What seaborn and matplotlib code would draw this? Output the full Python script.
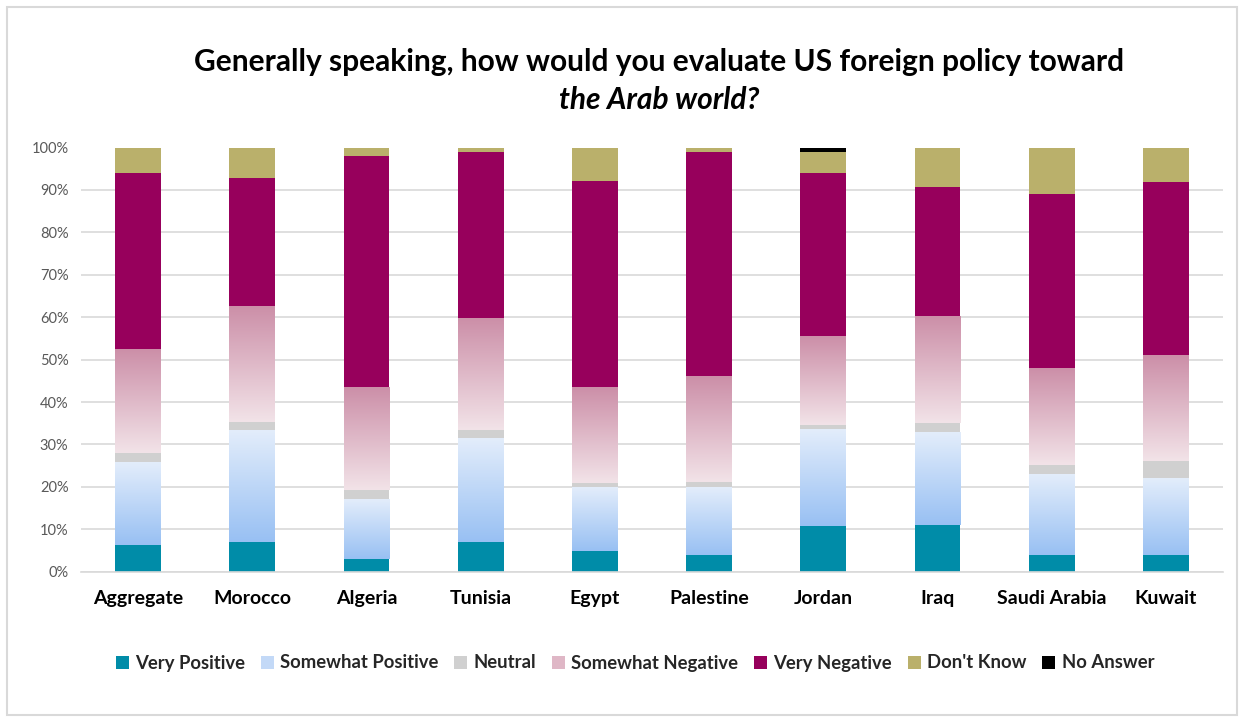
import numpy as np
import pandas as pd
import matplotlib
matplotlib.use("Agg")
import matplotlib.pyplot as plt
import seaborn as sns
from matplotlib.patches import Patch, Rectangle
from matplotlib.colors import to_rgb

# ---------------- data ----------------
countries = ["Aggregate", "Morocco", "Algeria", "Tunisia", "Egypt",
             "Palestine", "Jordan", "Iraq", "Saudi Arabia", "Kuwait"]
very_positive     = [6.4, 7.0, 3.0, 7.0, 4.9, 4.0, 10.8, 11.1, 4.0, 4.0]
somewhat_positive = [19.5, 26.4, 14.1, 24.3, 14.9, 16.0, 22.7, 21.8, 19.0, 18.0]
neutral           = [2.0, 1.9, 2.1, 2.1, 1.0, 1.1, 1.2, 2.1, 2.1, 4.1]
somewhat_negative = [24.3, 27.2, 24.2, 26.2, 22.6, 24.8, 20.9, 25.0, 22.8, 24.8]
very_negative     = [41.7, 30.4, 54.5, 39.3, 48.6, 53.0, 38.3, 30.8, 41.1, 40.9]
dont_know         = [6.1, 7.1, 2.1, 1.1, 8.0, 1.1, 5.0, 9.2, 11.0, 8.2]
no_answer         = [0.0, 0.0, 0.0, 0.0, 0.0, 0.0, 1.1, 0.0, 0.0, 0.0]

series = ["Very Positive", "Somewhat Positive", "Neutral", "Somewhat Negative",
          "Very Negative", "Don't Know", "No Answer"]
title_line1 = "Generally speaking, how would you evaluate US foreign policy toward"
title_line2 = "the Arab world?"

df = pd.DataFrame({
    "Very Positive": very_positive,
    "Somewhat Positive": somewhat_positive,
    "Neutral": neutral,
    "Somewhat Negative": somewhat_negative,
    "Very Negative": very_negative,
    "Don't Know": dont_know,
    "No Answer": no_answer,
}, index=countries)
cum = df[series].cumsum(axis=1)

colors = {
    "Very Positive": "#008ca8",
    "Somewhat Positive": "#c3d9f7",
    "Neutral": "#d0d0d0",
    "Somewhat Negative": "#dfb7c6",
    "Very Negative": "#97005c",
    "Don't Know": "#bab06b",
    "No Answer": "#000000",
}
gradients = {
    "Somewhat Positive": ("#98c0f3", "#e3edfb"),   # bottom, top
    "Somewhat Negative": ("#f2e3e8", "#cc8fa8"),
}

# ---------------- figure ----------------
sns.set_theme(style="white")
plt.rcParams["font.family"] = ["Lato", "DejaVu Sans"]

W, H = 1243, 719
fig = plt.figure(figsize=(W / 100, H / 100), dpi=100)
ax_l, ax_r, ax_t, ax_b = 81, 1223, 147.5, 571.7
ax = fig.add_axes([ax_l / W, 1 - ax_b / H, (ax_r - ax_l) / W, (ax_b - ax_t) / H])

patches_by_series = {}
for s in reversed(series):
    n0 = len(ax.patches)
    sns.barplot(x=countries, y=cum[s].values, color=colors[s], width=0.4,
                saturation=1, ax=ax, edgecolor="none", linewidth=0, zorder=2)
    patches_by_series[s] = list(ax.patches[n0:])

# gradient fills
for s, (c_bot, c_top) in gradients.items():
    idx = series.index(s)
    lows = cum[series[idx - 1]].values
    highs = cum[s].values
    cb, ct = np.array(to_rgb(c_bot)), np.array(to_rgb(c_top))
    t = np.linspace(0, 1, 200)[:, None, None]
    grad = cb[None, None, :] * (1 - t) + ct[None, None, :] * t
    for p, lo, hi in zip(patches_by_series[s], lows, highs):
        x0 = p.get_x()
        w = p.get_width()
        ax.imshow(grad, extent=[x0, x0 + w, lo, hi], origin="lower",
                  aspect="auto", zorder=3, interpolation="bilinear")

ax.set_xlim(-0.5, len(countries) - 0.5)
ax.set_ylim(0, 100)
ax.set_yticks(range(0, 101, 10))
ax.set_yticklabels([f"{v}%" for v in range(0, 101, 10)], color="#595959", fontsize=10.5)
ax.set_xticks(range(len(countries)))
ax.set_xticklabels(countries, fontsize=14, fontweight="bold", color="#000000")
ax.tick_params(axis="both", length=0)
ax.tick_params(axis="x", pad=13)
ax.tick_params(axis="y", pad=9)
ax.set_xlabel("")
ax.set_ylabel("")
ax.set_axisbelow(True)
ax.yaxis.grid(True, color="#d9d9d9", linewidth=1.2)
ax.xaxis.grid(False)
for sp in ["top", "right", "left"]:
    ax.spines[sp].set_visible(False)
ax.spines["bottom"].set_color("#d9d9d9")
ax.spines["bottom"].set_linewidth(1.2)

# title
fig.text(659 / W, 1 - 62 / H, title_line1, ha="center", va="center",
         fontsize=21.5, fontweight="bold", color="#000000")
fig.text(659 / W, 1 - 100 / H, title_line2, ha="center", va="center",
         fontsize=21.5, fontweight="bold", style="italic", color="#000000")

# legend
handles = [Patch(facecolor=colors[s], edgecolor="none", label=s) for s in series]
leg = fig.legend(handles=handles, loc="center", bbox_to_anchor=(635 / W, 1 - 663 / H),
                 ncol=7, frameon=False, fontsize=13.3, handlelength=0.7,
                 handleheight=0.7, handletextpad=0.35, columnspacing=0.85)
for txt in leg.get_texts():
    txt.set_fontweight("bold")

# outer border
fig.add_artist(Rectangle((7 / W, 1 - 715 / H), (1237 - 7) / W, (715 - 7) / H,
                         transform=fig.transFigure, fill=False,
                         edgecolor="#d9d9d9", linewidth=1.5))

fig.savefig("out.png", dpi=100)
